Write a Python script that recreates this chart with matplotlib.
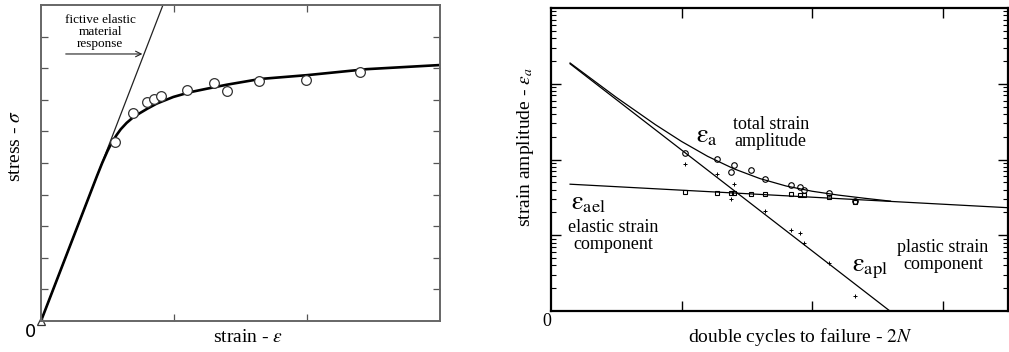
#!/usr/bin/env python3
# encoding: utf-8

import matplotlib
matplotlib.use('Agg')
import matplotlib.pyplot as plt
from matplotlib.ticker import FixedLocator, NullLocator, LogLocator, NullFormatter

plt.rcParams['font.family'] = ['Liberation Serif', 'DejaVu Serif']
plt.rcParams['mathtext.fontset'] = 'stix'

# ---- left: stress-strain curve ----
elastic_x = [0.0, 0.917]
elastic_y = [0.0, 10.0]

fit_x = [0.0, 0.42, 0.46, 0.50, 0.53, 0.569, 0.60, 0.644, 0.694, 0.744, 0.80,
         0.870, 0.995, 1.12, 1.246, 1.4, 1.65, 2.0, 2.45, 3.0]
fit_y = [0.0, 4.58, 5.00, 5.38, 5.63, 5.89, 6.07, 6.27, 6.45, 6.58, 6.72,
         6.88, 7.09, 7.24, 7.35, 7.48, 7.66, 7.78, 7.97, 8.10]

test_x = [0.556, 0.694, 0.795, 0.852, 0.902, 1.10, 1.298, 1.396, 1.637, 1.995, 2.396]
test_y = [5.65, 6.57, 6.92, 7.04, 7.11, 7.31, 7.54, 7.27, 7.58, 7.62, 7.87]

# ---- right: strain-life curve ----
cycles = [107, 186, 237, 254, 338, 436, 687, 809, 859, 1349, 2128]
total_amp = [1.233e-3, 1.009e-3, 6.79e-4, 8.49e-4, 7.29e-4, 5.55e-4,
             4.57e-4, 4.39e-4, 3.96e-4, 3.66e-4, 2.84e-4]
elastic_amp = [3.70e-4, 3.59e-4, 3.59e-4, 3.59e-4, 3.52e-4, 3.52e-4,
               3.48e-4, 3.37e-4, 3.37e-4, 3.24e-4, 2.78e-4]
plastic_cycles = [107, 186, 254, 237, 436, 687, 809, 859, 1349, 2128]
plastic_amp = [8.67e-4, 6.52e-4, 4.72e-4, 3.02e-4, 2.11e-4, 1.175e-4,
               1.062e-4, 7.98e-5, 4.35e-5, 1.59e-5]

basquin_n = [14.0, 31600]
basquin_e = [4.72e-4, 2.31e-4]
coffin_n = [14.0, 3940]
coffin_e = [1.832e-2, 1.0e-5]
total_n = [14.0, 31.6, 63.1, 100, 158.5, 251, 398, 631, 1000, 1585, 2512, 3981]
total_e = [1.879e-2, 6.62e-3, 2.88e-3, 1.73e-3, 1.10e-3, 7.55e-4, 5.60e-4,
           4.47e-4, 3.81e-4, 3.39e-4, 3.08e-4, 2.82e-4]

W, H = 1009, 352
fig = plt.figure(figsize=(W / 100, H / 100), dpi=100)

# left panel
ax1 = fig.add_axes([41 / W, 31 / H, 399 / W, 316 / H])
ax1.plot(elastic_x, elastic_y, color='#222222', lw=0.9)
ax1.plot(fit_x, fit_y, color='black', lw=1.9, solid_joinstyle='round')
ax1.plot(test_x, test_y, 'o', mfc='white', mec='#333333', ms=7, mew=0.9)
ax1.plot([0], [0], '^', mfc='white', mec='#333333', ms=6, mew=0.9, clip_on=False)
ax1.set_xlim(0, 3)
ax1.set_ylim(0, 10)
ax1.xaxis.set_major_locator(FixedLocator([1, 2]))
ax1.yaxis.set_major_locator(FixedLocator(range(1, 10)))
ax1.tick_params(direction='in', length=5, width=0.9, color='#555555',
                top=True, right=True, labelbottom=False, labelleft=False)
for sp in ax1.spines.values():
    sp.set_color('#666666')
    sp.set_linewidth(1.4)
ax1.text(0.148, 0.915, 'fictive elastic\nmaterial\nresponse', transform=ax1.transAxes,
         ha='center', va='center', fontsize=9.5, linespacing=1.0)
ax1.annotate('', xy=(0.261, 0.845), xytext=(0.055, 0.845), xycoords='axes fraction',
             arrowprops=dict(arrowstyle='->', lw=0.8, color='#222222'))
fig.text(248 / W, 1 - 338 / H, r'strain - $\varepsilon$', ha='center', va='center', fontsize=14)
fig.text(15 / W, 1 - 146 / H, r'stress - $\sigma$', ha='center', va='center',
         rotation=90, fontsize=14)
fig.text(30 / W, 1 - 332 / H, '0', ha='center', va='center', fontsize=13,
         family='DejaVu Sans')

# right panel
ax2 = fig.add_axes([551 / W, 41 / H, 457 / W, 303 / H])
ax2.set_xscale('log')
ax2.set_yscale('log')
ax2.plot(basquin_n, basquin_e, color='black', lw=0.9)
ax2.plot(coffin_n, coffin_e, color='black', lw=0.9)
ax2.plot(total_n, total_e, color='black', lw=0.9)
ax2.plot(cycles, total_amp, 'o', mfc='none', mec='black', ms=4, mew=0.8)
ax2.plot(cycles, elastic_amp, 's', mfc='none', mec='black', ms=2.5, mew=0.8)
ax2.plot(plastic_cycles, plastic_amp, '+', color='black', ms=3, mew=0.7)
ax2.set_xlim(10, 10 ** 4.5)
ax2.set_ylim(1e-5, 1e-1)
ax2.xaxis.set_major_locator(FixedLocator([1e2, 1e3, 1e4]))
ax2.xaxis.set_minor_locator(NullLocator())
ax2.yaxis.set_major_locator(FixedLocator([1e-4, 1e-3, 1e-2]))
ax2.yaxis.set_minor_locator(LogLocator(base=10, subs=range(2, 10)))
ax2.xaxis.set_major_formatter(NullFormatter())
ax2.yaxis.set_major_formatter(NullFormatter())
ax2.yaxis.set_minor_formatter(NullFormatter())
ax2.tick_params(which='major', direction='in', length=7, width=1.0,
                top=True, right=True, labelbottom=False, labelleft=False)
ax2.tick_params(which='minor', direction='in', length=3.5, width=0.8,
                top=True, right=True)
for sp in ax2.spines.values():
    sp.set_color('black')
    sp.set_linewidth(1.6)

ax2.text(0.317, 0.558, r'$\mathrm{\varepsilon_{a}}$', transform=ax2.transAxes,
         ha='left', va='baseline', fontsize=19)
ax2.text(0.481, 0.587, 'total strain\namplitude', transform=ax2.transAxes,
         ha='center', va='center', fontsize=13, linespacing=1.05)
ax2.text(0.044, 0.335, r'$\mathrm{\varepsilon_{ael}}$', transform=ax2.transAxes,
         ha='left', va='baseline', fontsize=19)
ax2.text(0.136, 0.247, 'elastic strain\ncomponent', transform=ax2.transAxes,
         ha='center', va='center', fontsize=13, linespacing=1.05)
ax2.text(0.659, 0.130, r'$\mathrm{\varepsilon_{apl}}$', transform=ax2.transAxes,
         ha='left', va='baseline', fontsize=19)
ax2.text(0.858, 0.181, 'plastic strain\ncomponent', transform=ax2.transAxes,
         ha='center', va='center', fontsize=13, linespacing=1.05)

fig.text(800 / W, 1 - 337 / H, r'double cycles to failure - $\mathit{2N}$',
         ha='center', va='center', fontsize=14)
fig.text(525 / W, 1 - 147 / H, r'strain amplitude - $\varepsilon_{a}$',
         ha='center', va='center', rotation=90, fontsize=14)
fig.text(547 / W, 1 - 322 / H, '0', ha='center', va='center', fontsize=13)

fig.savefig('out.png', dpi=100)
